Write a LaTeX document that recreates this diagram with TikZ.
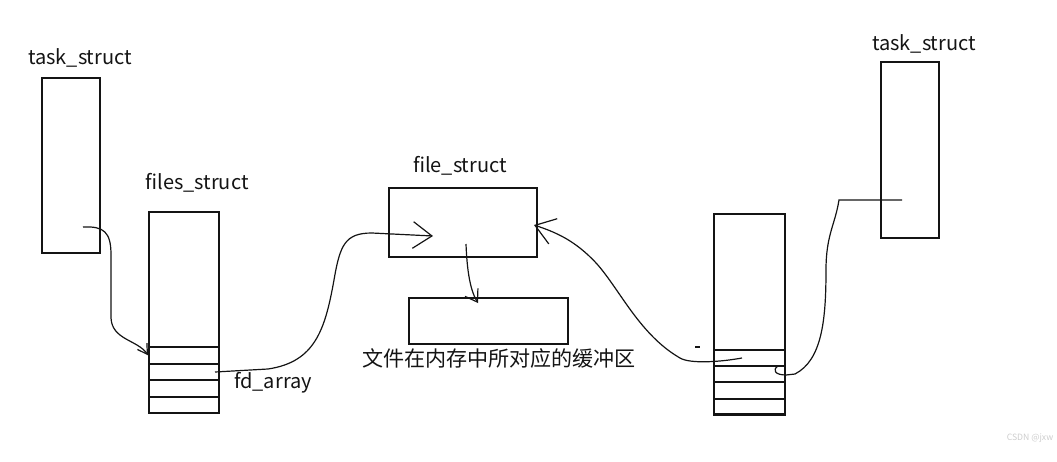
\documentclass[tikz,border=0pt]{standalone}
\usepackage{fontspec}
\setmainfont{Noto Sans CJK SC}
\definecolor{fdInk}{RGB}{20,20,20}
\definecolor{fdMark}{RGB}{205,205,205}
\usepackage{tikz}
\usetikzlibrary{shapes,arrows,positioning}
\usetikzlibrary{arrows.meta}

\begin{document}
\begin{tikzpicture}[x=0.75pt,y=-0.75pt,
    box/.style={draw=fdInk, line width=1.6pt, inner sep=0pt, anchor=north west},
    cell/.style={draw=fdInk, line width=1.5pt, inner sep=0pt, anchor=north west},
    lbl/.style={font=\fontsize{15}{18}\selectfont, text=fdInk, inner sep=0pt},
    wire/.style={draw=fdInk, line width=0.9pt},
    barb/.style={-{Straight Barb[length=5mm,width=7mm]}}]
    \def\pxu{0.75pt}
    \useasboundingbox (0,0) rectangle (1057,461);

    % left process
    \node[box, minimum width=58*\pxu, minimum height=175*\pxu] (ltask) at (41,77) {};
    \node[lbl] (ltasklbl) at (80,58) {task\_struct};
    \node[box, minimum width=70*\pxu, minimum height=201*\pxu] (lfiles) at (148,211) {};
    \node[lbl] (lfileslbl) at (197,183) {files\_struct};
    \foreach \i in {1,...,4}
        \node[cell, minimum width=70*\pxu, minimum height=16.5*\pxu] (lcell\i) at (148,{346+(\i-1)*16.5}) {};
    \node[lbl] (fdlbl) at (273,383) {fd\_array};

    % file_struct and its buffer
    \node[box, minimum width=148*\pxu, minimum height=69*\pxu] (fstruct) at (388,187) {};
    \node[lbl] (fstructlbl) at (460,166) {file\_struct};
    \node[box, minimum width=159*\pxu, minimum height=46*\pxu] (buf) at (408,297) {};
    \node[lbl, font=\fontsize{15.8}{18}\selectfont] (buflbl) at (499,358) {文件在内存中所对应的缓冲区};

    % right process
    \node[box, minimum width=58*\pxu, minimum height=176*\pxu] (rtask) at (880,61) {};
    \node[lbl] (rtasklbl) at (924,44) {task\_struct};
    \node[box, minimum width=71*\pxu, minimum height=200*\pxu] (rfiles) at (713,213) {};
    \foreach \i in {1,...,4}
        \node[cell, minimum width=71*\pxu, minimum height=16.2*\pxu] (rcell\i) at (713,{349+(\i-1)*16.2}) {};

    % free ends of the hand drawn wires
    \coordinate (ltaskin) at (83,227);
    \coordinate (lfdin) at (215,372);
    \coordinate (fsleft) at (433,236);
    \coordinate (fsdown) at (466,244);
    \coordinate (bufin) at (478,303);
    \coordinate (fsright) at (534,225);
    \coordinate (rcellin) at (742,358);
    \coordinate (rtaskin) at (902,200);
    \coordinate (rcelltwo) at (778,366);

    % task_struct -> files_struct (left)
    \draw[wire, -{Straight Barb[length=2.5mm,width=3mm]}] (ltaskin) .. controls (104,226) and (111,232) .. (111,255)
        -- (111,318) .. controls (112,340) and (138,340) .. (lcell1.west);

    % fd_array -> file_struct
    \draw[wire, barb] (lfdin) -- (268,369) .. controls (315,362) and (325,330) .. (334,280)
        .. controls (340,245) and (345,233) .. (372,233) -- (fsleft);

    % file_struct -> buffer
    \draw[wire, -{Straight Barb[length=3mm,width=4mm]}] (fsdown) .. controls (467,270) and (470,290) .. (bufin);

    % right files_struct -> file_struct
    \draw[wire, barb] (rcellin) .. controls (720,362) and (690,364) .. (680,358)
        .. controls (640,335) and (620,290) .. (597,264) .. controls (575,240) and (555,232) .. (fsright);

    % task_struct -> files_struct (right)
    \draw[wire] (rtaskin) -- (839,200) .. controls (835,225) and (826,235) .. (826,270)
        .. controls (826,320) and (822,360) .. (795,374) -- (786,375)
        .. controls (775,375) and (772,370) .. (rcelltwo);

    % stray pen mark
    \draw[fdInk, line width=2pt] (695,347) -- (700,347);

    % watermark
    \node[font=\fontsize{6.5}{8}\selectfont, text=fdMark, inner sep=0pt] (wmark) at (1030,438) {CSDN @jxw};
\end{tikzpicture}
\end{document}
